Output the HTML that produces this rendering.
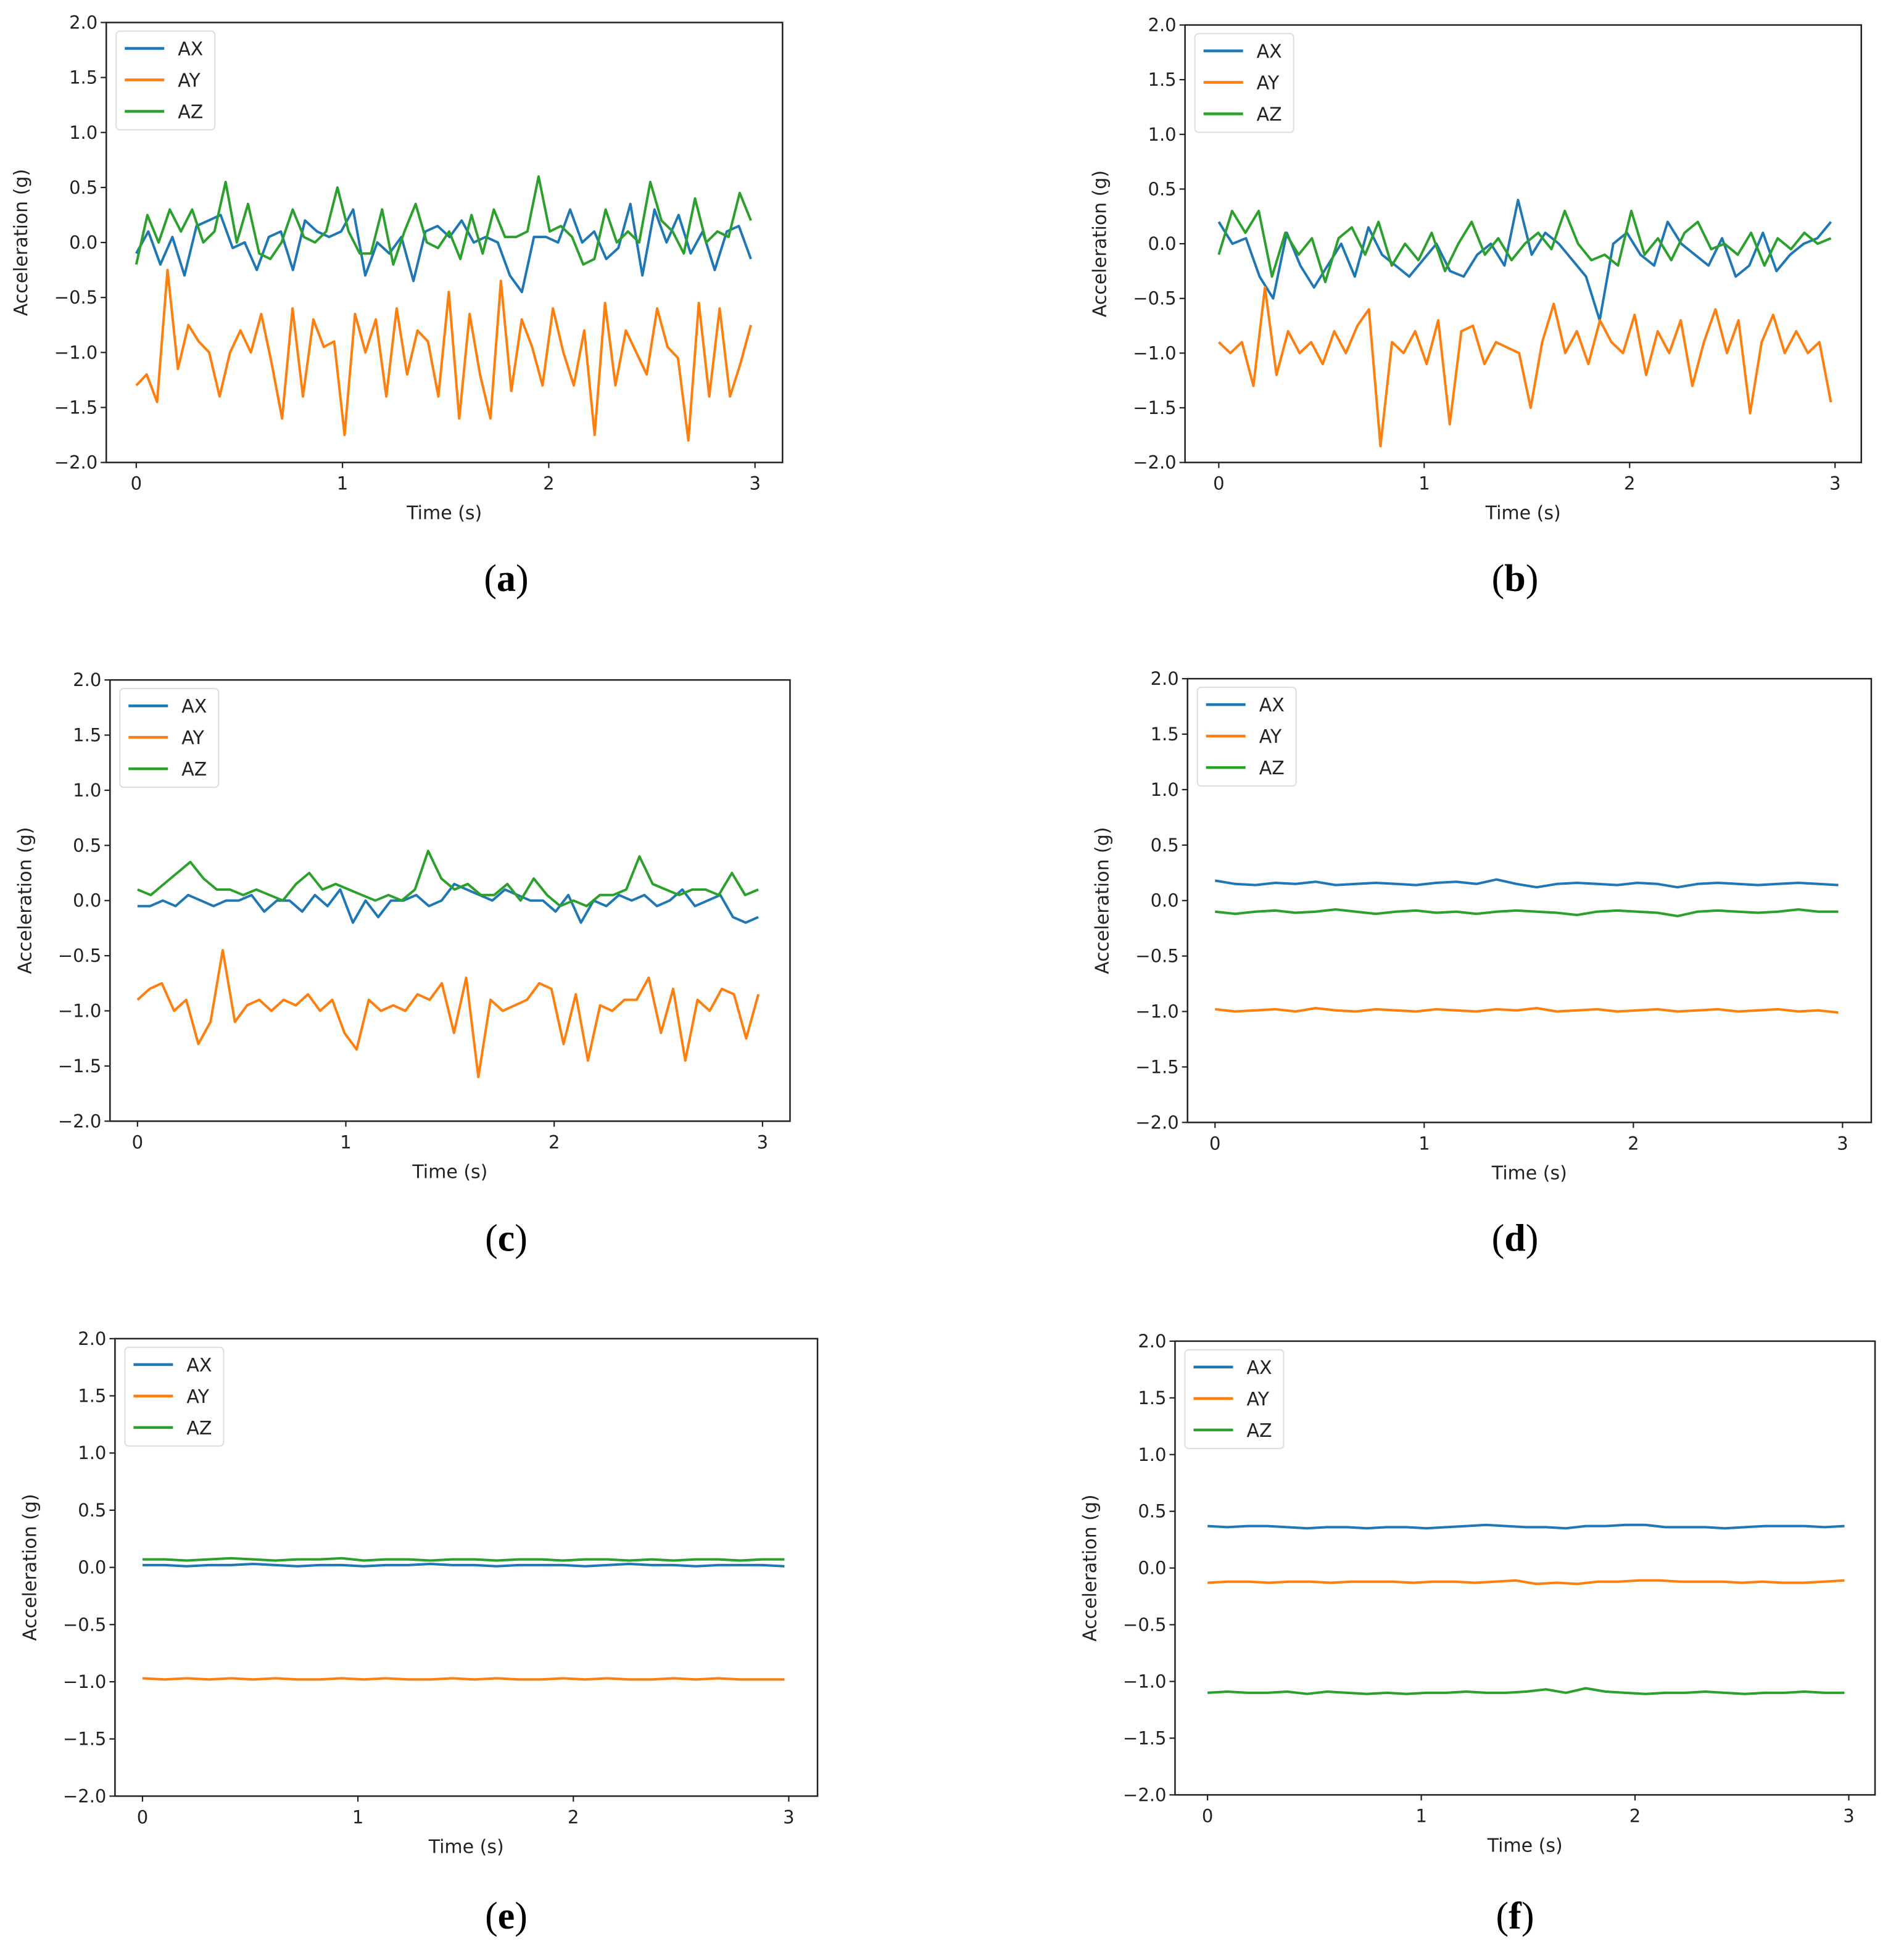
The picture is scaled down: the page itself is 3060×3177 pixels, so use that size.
<!DOCTYPE html>
<html><head><meta charset="utf-8"><style>
html,body{margin:0;padding:0;background:#fff;}
svg{display:block;}
</style></head><body>
<svg id="fig" width="3060" height="3177" viewBox="0 0 3060 3177" xmlns="http://www.w3.org/2000/svg" font-family="DejaVu Sans, Liberation Sans, sans-serif"></svg>
<script>
// ---- data ----
const aAX=[-0.1,0.1,-0.2,0.05,-0.3,0.15,0.2,0.25,-0.05,0.0,-0.25,0.05,0.1,-0.25,0.2,0.1,0.05,0.1,0.3,-0.3,0.0,-0.1,0.05,-0.35,0.1,0.15,0.05,0.2,0.0,0.05,0.0,-0.3,-0.45,0.05,0.05,0.0,0.3,0.0,0.1,-0.15,-0.05,0.35,-0.3,0.3,0.0,0.25,-0.1,0.1,-0.25,0.1,0.15,-0.15];
const aAY=[-1.3,-1.2,-1.45,-0.25,-1.15,-0.75,-0.9,-1.0,-1.4,-1.0,-0.8,-1.0,-0.65,-1.1,-1.6,-0.6,-1.4,-0.7,-0.95,-0.9,-1.75,-0.65,-1.0,-0.7,-1.4,-0.6,-1.2,-0.8,-0.9,-1.4,-0.45,-1.6,-0.65,-1.2,-1.6,-0.35,-1.35,-0.7,-0.95,-1.3,-0.6,-1.0,-1.3,-0.8,-1.75,-0.55,-1.3,-0.8,-1.0,-1.2,-0.6,-0.95,-1.05,-1.8,-0.55,-1.4,-0.6,-1.4,-1.1,-0.75];
const aAZ=[-0.2,0.25,0.0,0.3,0.1,0.3,0.0,0.1,0.55,0.0,0.35,-0.1,-0.15,0.0,0.3,0.05,0.0,0.1,0.5,0.1,-0.1,-0.1,0.3,-0.2,0.1,0.35,0.0,-0.05,0.1,-0.15,0.25,-0.1,0.3,0.05,0.05,0.1,0.6,0.1,0.15,0.05,-0.2,-0.15,0.3,0.0,0.1,0.0,0.55,0.2,0.1,-0.1,0.4,0.0,0.1,0.05,0.45,0.2];
const bAX=[0.2,0.0,0.05,-0.3,-0.5,0.1,-0.2,-0.4,-0.2,0.0,-0.3,0.15,-0.1,-0.2,-0.3,-0.15,0.0,-0.25,-0.3,-0.1,0.0,-0.2,0.4,-0.1,0.1,0.0,-0.15,-0.3,-0.7,0.0,0.1,-0.1,-0.2,0.2,0.0,-0.1,-0.2,0.05,-0.3,-0.2,0.1,-0.25,-0.1,0.0,0.05,0.2];
const bAY=[-0.9,-1.0,-0.9,-1.3,-0.4,-1.2,-0.8,-1.0,-0.9,-1.1,-0.8,-1.0,-0.75,-0.6,-1.85,-0.9,-1.0,-0.8,-1.1,-0.7,-1.65,-0.8,-0.75,-1.1,-0.9,-0.95,-1.0,-1.5,-0.9,-0.55,-1.0,-0.8,-1.1,-0.7,-0.9,-1.0,-0.65,-1.2,-0.8,-1.0,-0.7,-1.3,-0.9,-0.6,-1.0,-0.7,-1.55,-0.9,-0.65,-1.0,-0.8,-1.0,-0.9,-1.45];
const bAZ=[-0.1,0.3,0.1,0.3,-0.3,0.1,-0.1,0.05,-0.35,0.05,0.15,-0.1,0.2,-0.2,0.0,-0.15,0.1,-0.25,0.0,0.2,-0.1,0.05,-0.15,0.0,0.1,-0.05,0.3,0.0,-0.15,-0.1,-0.2,0.3,-0.1,0.05,-0.15,0.1,0.2,-0.05,0.0,-0.1,0.1,-0.2,0.05,-0.05,0.1,0.0,0.05];
const cAX=[-0.05,-0.05,0.0,-0.05,0.05,0.0,-0.05,0.0,0.0,0.05,-0.1,0.0,0.0,-0.1,0.05,-0.05,0.1,-0.2,0.0,-0.15,0.0,0.0,0.05,-0.05,0.0,0.15,0.1,0.05,0.0,0.1,0.05,0.0,0.0,-0.1,0.05,-0.2,0.0,-0.05,0.05,0.0,0.05,-0.05,0.0,0.1,-0.05,0.0,0.05,-0.15,-0.2,-0.15];
const cAY=[-0.9,-0.8,-0.75,-1.0,-0.9,-1.3,-1.1,-0.45,-1.1,-0.95,-0.9,-1.0,-0.9,-0.95,-0.85,-1.0,-0.9,-1.2,-1.35,-0.9,-1.0,-0.95,-1.0,-0.85,-0.9,-0.75,-1.2,-0.7,-1.6,-0.9,-1.0,-0.95,-0.9,-0.75,-0.8,-1.3,-0.85,-1.45,-0.95,-1.0,-0.9,-0.9,-0.7,-1.2,-0.8,-1.45,-0.9,-1.0,-0.8,-0.85,-1.25,-0.85];
const cAZ=[0.1,0.05,0.15,0.25,0.35,0.2,0.1,0.1,0.05,0.1,0.05,0.0,0.15,0.25,0.1,0.15,0.1,0.05,0.0,0.05,0.0,0.1,0.45,0.2,0.1,0.15,0.05,0.05,0.15,0.0,0.2,0.05,-0.05,0.0,-0.05,0.05,0.05,0.1,0.4,0.15,0.1,0.05,0.1,0.1,0.05,0.25,0.05,0.1];
const dAX=[0.18,0.15,0.14,0.16,0.15,0.17,0.14,0.15,0.16,0.15,0.14,0.16,0.17,0.15,0.19,0.15,0.12,0.15,0.16,0.15,0.14,0.16,0.15,0.12,0.15,0.16,0.15,0.14,0.15,0.16,0.15,0.14];
const dAY=[-0.98,-1.0,-0.99,-0.98,-1.0,-0.97,-0.99,-1.0,-0.98,-0.99,-1.0,-0.98,-0.99,-1.0,-0.98,-0.99,-0.97,-1.0,-0.99,-0.98,-1.0,-0.99,-0.98,-1.0,-0.99,-0.98,-1.0,-0.99,-0.98,-1.0,-0.99,-1.01];
const dAZ=[-0.1,-0.12,-0.1,-0.09,-0.11,-0.1,-0.08,-0.1,-0.12,-0.1,-0.09,-0.11,-0.1,-0.12,-0.1,-0.09,-0.1,-0.11,-0.13,-0.1,-0.09,-0.1,-0.11,-0.14,-0.1,-0.09,-0.1,-0.11,-0.1,-0.08,-0.1,-0.1];
const eAX=[0.02,0.02,0.01,0.02,0.02,0.03,0.02,0.01,0.02,0.02,0.01,0.02,0.02,0.03,0.02,0.02,0.01,0.02,0.02,0.02,0.01,0.02,0.03,0.02,0.02,0.01,0.02,0.02,0.02,0.01];
const eAY=[-0.97,-0.98,-0.97,-0.98,-0.97,-0.98,-0.97,-0.98,-0.98,-0.97,-0.98,-0.97,-0.98,-0.98,-0.97,-0.98,-0.97,-0.98,-0.98,-0.97,-0.98,-0.97,-0.98,-0.98,-0.97,-0.98,-0.97,-0.98,-0.98,-0.98];
const eAZ=[0.07,0.07,0.06,0.07,0.08,0.07,0.06,0.07,0.07,0.08,0.06,0.07,0.07,0.06,0.07,0.07,0.06,0.07,0.07,0.06,0.07,0.07,0.06,0.07,0.06,0.07,0.07,0.06,0.07,0.07];
const fAX=[0.37,0.36,0.37,0.37,0.36,0.35,0.36,0.36,0.35,0.36,0.36,0.35,0.36,0.37,0.38,0.37,0.36,0.36,0.35,0.37,0.37,0.38,0.38,0.36,0.36,0.36,0.35,0.36,0.37,0.37,0.37,0.36,0.37];
const fAY=[-0.13,-0.12,-0.12,-0.13,-0.12,-0.12,-0.13,-0.12,-0.12,-0.12,-0.13,-0.12,-0.12,-0.13,-0.12,-0.11,-0.14,-0.13,-0.14,-0.12,-0.12,-0.11,-0.11,-0.12,-0.12,-0.12,-0.13,-0.12,-0.13,-0.13,-0.12,-0.11];
const fAZ=[-1.1,-1.09,-1.1,-1.1,-1.09,-1.11,-1.09,-1.1,-1.11,-1.1,-1.11,-1.1,-1.1,-1.09,-1.1,-1.1,-1.09,-1.07,-1.1,-1.06,-1.09,-1.1,-1.11,-1.1,-1.1,-1.09,-1.1,-1.11,-1.1,-1.1,-1.09,-1.1,-1.1];
const yTicks=[2.0,1.5,1.0,0.5,0.0,-0.5,-1.0,-1.5,-2.0];
const xTicks=[0,1,2,3];
const seriesNames=["AX","AY","AZ"];
const colors=["#1f77b4","#ff7f0e","#2ca02c"];

const S=2.026;
const panels=[
 {id:"a",L:85,R:626,T:18,B:370,x0:109,x3:604,lab:[405,462],data:[aAX,aAY,aAZ]},
 {id:"b",L:948,R:1489,T:20,B:370,x0:975,x3:1468,lab:[1212,462],data:[bAX,bAY,bAZ]},
 {id:"c",L:88,R:632,T:544,B:897,x0:110,x3:610,lab:[405,990],data:[cAX,cAY,cAZ]},
 {id:"d",L:950,R:1497,T:543,B:898,x0:972,x3:1474,lab:[1212,990],data:[dAX,dAY,dAZ]},
 {id:"e",L:92,R:654,T:1071,B:1437,x0:114,x3:631,lab:[405,1532],data:[eAX,eAY,eAZ]},
 {id:"f",L:940,R:1500,T:1073,B:1436,x0:966,x3:1479,lab:[1212,1532],data:[fAX,fAY,fAZ]}
];
const NS="http://www.w3.org/2000/svg";
const svg=document.getElementById('fig');
function mk(tag,attrs,parent,text){const e=document.createElementNS(NS,tag);for(const k in attrs)e.setAttribute(k,attrs[k]);if(text!==undefined)e.textContent=text;parent.appendChild(e);return e;}
const fmt=v=>(v<0?"\u2212":"")+Math.abs(v).toFixed(1);
panels.forEach(p=>{
 const L=p.L*S,R=p.R*S,T=p.T*S,B=p.B*S,X0=p.x0*S,X3=p.x3*S;
 const xs=t=>X0+(X3-X0)*t/3;
 const ys=v=>T+(B-T)*(2-v)/4;
 const g=mk('g',{},svg);
 
 
 const plot=mk('g',{},g);
 
 
 p.data.forEach((arr,si)=>{
  const n=arr.length;
  const pts=arr.map((v,i)=>xs(2.98*i/(n-1)).toFixed(1)+','+ys(v).toFixed(1)).join(' ');
  const pl=mk('polyline',{points:pts,fill:'none',stroke:colors[si],'stroke-width':4,'stroke-linejoin':'round'},plot);
  
  
 });
 const fr=mk('rect',{x:L,y:T,width:R-L,height:B-T,fill:'none',stroke:'#222','stroke-width':2.5},g);
 
 
 yTicks.forEach(v=>{
  mk('line',{x1:L-9,x2:L,y1:ys(v),y2:ys(v),stroke:'#222','stroke-width':2.2},g);
  const t=mk('text',{x:L-14,y:ys(v)+10,'text-anchor':'end','font-size':29,fill:'#222'},g,fmt(v));
  
  
 });
 xTicks.forEach(v=>{
  mk('line',{x1:xs(v),x2:xs(v),y1:B,y2:B+9,stroke:'#222','stroke-width':2.2},g);
  const t=mk('text',{x:xs(v),y:B+44,'text-anchor':'middle','font-size':29,fill:'#222'},g,String(v));
  
  
 });
 const xt=mk('text',{x:(L+R)/2,y:B+92,'text-anchor':'middle','font-size':30,fill:'#222'},g,'Time (s)');
 
 
 const yx=L-128, yy=(T+B)/2;
 const yt=mk('text',{x:yx,y:yy,'text-anchor':'middle','font-size':30,fill:'#222',transform:`rotate(-90 ${yx} ${yy})`},g,'Acceleration (g)');
 
 
 const lg=mk('g',{},g);
 
 
 const lx=L+16, ly=T+14;
 mk('rect',{x:lx,y:ly,width:160,height:160,rx:6,fill:'#fff',stroke:'#ddd','stroke-width':2},lg);
 seriesNames.forEach((nm,i)=>{
  const cy=ly+28+i*51;
  const le=mk('g',{},lg);
  
  
  mk('line',{x1:lx+14,x2:lx+78,y1:cy,y2:cy,stroke:colors[i],'stroke-width':4.5},le);
  mk('text',{x:lx+100,y:cy+11,'font-size':30,fill:'#222'},le,nm);
 });
 const cap=mk('text',{x:p.lab[0]*S,y:p.lab[1]*S+22,'text-anchor':'middle','font-size':62,'font-family':'Liberation Serif, serif',fill:'#000'},g);
 
 
 mk('tspan',{'font-weight':'normal'},cap,'(');
 mk('tspan',{'font-weight':'bold'},cap,p.id);
 mk('tspan',{'font-weight':'normal'},cap,')');
});
</script>
</body></html>
